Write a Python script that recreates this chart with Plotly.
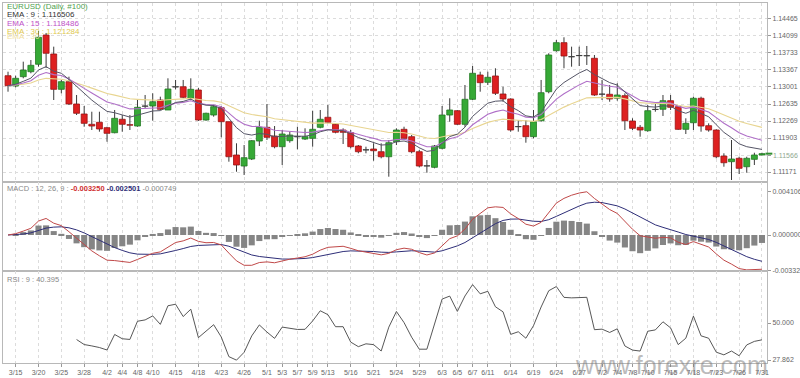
import numpy as np
import pandas as pd
import plotly.graph_objects as go

# ---------------- data ----------------
dates = pd.bdate_range("2019-03-14", "2019-07-31")
date_labels = [f"{d.month}/{d.day}" for d in dates]

opens = [1.13244, 1.13022, 1.13223, 1.13330, 1.13490, 1.14120, 1.13711, 1.12951, 1.13115, 1.12635,
         1.12420, 1.12198, 1.12241, 1.12125, 1.12017, 1.12306, 1.12190, 1.12161, 1.12585, 1.12592,
         1.12721, 1.12506, 1.13007, 1.13007, 1.12758, 1.12936, 1.12290, 1.12398, 1.12555, 1.12254,
         1.11537, 1.11300, 1.11451, 1.11838, 1.12133, 1.11946, 1.11716, 1.11845, 1.11935, 1.11881,
         1.11896, 1.12133, 1.12349, 1.12198, 1.12075, 1.12017, 1.11731, 1.11650, 1.11666, 1.11608,
         1.11500, 1.11823, 1.12090, 1.11931, 1.11608, 1.11305, 1.11272, 1.11681, 1.12398, 1.12491,
         1.12198, 1.12736, 1.13259, 1.13102, 1.13238, 1.12850, 1.12743, 1.12150, 1.12168, 1.11931,
         1.12275, 1.12900, 1.13782, 1.13955, 1.13650, 1.13680, 1.13670, 1.13619, 1.12850, 1.12844,
         1.12758, 1.12814, 1.12269, 1.12133, 1.12060, 1.12515, 1.12521, 1.12706, 1.12577, 1.12090,
         1.12232, 1.12758, 1.12168, 1.12075, 1.11515, 1.11393, 1.11466, 1.11285, 1.11444, 1.11537]
highs = [1.13330, 1.13244, 1.13546, 1.13582, 1.14207, 1.14164, 1.13869, 1.13152, 1.13223, 1.12829,
         1.12592, 1.12469, 1.12469, 1.12146, 1.12506, 1.12398, 1.12398, 1.12721, 1.12829, 1.12865,
         1.12792, 1.13188, 1.13152, 1.13152, 1.13188, 1.12980, 1.12448, 1.12613, 1.12592, 1.12260,
         1.11789, 1.11752, 1.11860, 1.12275, 1.12635, 1.12161, 1.12075, 1.12039, 1.12146, 1.12112,
         1.12491, 1.12506, 1.12613, 1.12219, 1.12112, 1.12075, 1.11752, 1.11716, 1.11789, 1.11789,
         1.11860, 1.12112, 1.12146, 1.11967, 1.11645, 1.11429, 1.11752, 1.12592, 1.12758, 1.12506,
         1.13044, 1.13453, 1.13330, 1.13330, 1.13404, 1.13007, 1.12758, 1.12290, 1.12290, 1.12506,
         1.13152, 1.13727, 1.14013, 1.14071, 1.13869, 1.13869, 1.13884, 1.13690, 1.13152, 1.13044,
         1.13081, 1.12865, 1.12327, 1.12183, 1.12613, 1.12635, 1.12829, 1.12829, 1.12592, 1.12327,
         1.12792, 1.12792, 1.12219, 1.12090, 1.11574, 1.11860, 1.11500, 1.11500, 1.11586, 1.11586]
lows = [1.12900, 1.12994, 1.13188, 1.13296, 1.13438, 1.13410, 1.12721, 1.12865, 1.12613, 1.12398,
        1.12146, 1.12075, 1.12039, 1.11823, 1.12004, 1.12039, 1.12075, 1.12146, 1.12549, 1.12275,
        1.12506, 1.12506, 1.12951, 1.12758, 1.12721, 1.12269, 1.12275, 1.12362, 1.11918, 1.11393,
        1.11177, 1.11106, 1.11429, 1.11731, 1.11860, 1.11681, 1.11322, 1.11802, 1.11660, 1.11860,
        1.11716, 1.12112, 1.12219, 1.12004, 1.11774, 1.11681, 1.11574, 1.11574, 1.11414, 1.11466,
        1.11070, 1.11752, 1.11860, 1.11574, 1.11272, 1.11156, 1.11251, 1.11660, 1.12254, 1.12183,
        1.12146, 1.12721, 1.12900, 1.13044, 1.12829, 1.12684, 1.12039, 1.12039, 1.11802, 1.11896,
        1.12254, 1.12865, 1.13761, 1.13404, 1.13438, 1.13453, 1.13475, 1.12810, 1.12721, 1.12684,
        1.12706, 1.12075, 1.12075, 1.11931, 1.12039, 1.12469, 1.12377, 1.12506, 1.12075, 1.11989,
        1.12075, 1.12039, 1.12039, 1.11466, 1.11285, 1.10999, 1.11128, 1.11156, 1.11322, 1.11530]
closes = [1.13029, 1.13188, 1.13367, 1.13468, 1.14071, 1.13727, 1.12951, 1.13115, 1.12635, 1.12435,
          1.12219, 1.12161, 1.12097, 1.12004, 1.12327, 1.12198, 1.12178, 1.12564, 1.12595, 1.12684,
          1.12521, 1.12958, 1.13000, 1.12779, 1.12951, 1.12290, 1.12435, 1.12577, 1.12254, 1.11500,
          1.11322, 1.11479, 1.11845, 1.12133, 1.11918, 1.11716, 1.11989, 1.11967, 1.11928, 1.11931,
          1.12090, 1.12306, 1.12241, 1.12026, 1.12026, 1.11716, 1.11608, 1.11645, 1.11629, 1.11500,
          1.11802, 1.12075, 1.11896, 1.11608, 1.11300, 1.11300, 1.11731, 1.12398, 1.12506, 1.12198,
          1.12736, 1.13296, 1.13094, 1.13210, 1.12865, 1.12743, 1.12075, 1.12146, 1.11931, 1.12254,
          1.12878, 1.13690, 1.13955, 1.13668, 1.13655, 1.13675, 1.13678, 1.12829, 1.12844, 1.12743,
          1.12829, 1.12275, 1.12112, 1.12075, 1.12491, 1.12521, 1.12706, 1.12564, 1.12090, 1.12219,
          1.12758, 1.12161, 1.12075, 1.11500, 1.11371, 1.11451, 1.11251, 1.11466, 1.11537, 1.11566]

tick_labels = ["3/15", "3/20", "3/25", "3/28", "4/2", "4/4", "4/8", "4/10", "4/15", "4/18",
               "4/23", "4/26", "5/1", "5/3", "5/7", "5/9", "5/13", "5/16", "5/21", "5/24",
               "5/29", "6/3", "6/5", "6/7", "6/11", "6/14", "6/19", "6/24", "6/27", "7/2",
               "7/4", "7/8", "7/10", "7/15", "7/18", "7/23", "7/26", "7/31"]
price_ticks = [1.14465, 1.14099, 1.13733, 1.13367, 1.13001, 1.12635, 1.12269, 1.11903, 1.11537, 1.11171]
price_tick_text = ["1.14465", "1.14099", "1.13733", "1.13367", "1.13001", "1.12635", "1.12269",
                   "1.11903", "", "1.11171"]
last_price = 1.11566
last_price_text = "1.11566"
macd_ticks = [0.004106, 0.0, -0.003329]
macd_tick_text = ["0.004106", "0.000000", "-0.003329"]
rsi_ticks = [50.0, 27.862]
rsi_tick_text = ["50.000", "27.862"]

# ---------------- indicators (as computed by the original chart) ----------------
def ema(vals, n):
    a = 2.0 / (n + 1)
    out = [vals[0]]
    for v in vals[1:]:
        out.append(a * v + (1 - a) * out[-1])
    return np.array(out)

c = np.array(closes)
ema9, ema15, ema30 = ema(closes, 9), ema(closes, 15), ema(closes, 30)
macd = ema(closes, 12) - ema(closes, 26)
signal = ema(list(macd), 9)
hist = macd - signal

def rsi(vals, n=9):
    ch = np.diff(vals)
    g = np.maximum(ch, 0)
    l = np.maximum(-ch, 0)
    out = [None] * len(vals)
    ag, al = g[:n].mean(), l[:n].mean()
    out[n] = 100 - 100 / (1 + ag / al) if al > 0 else 100
    for i in range(n, len(ch)):
        ag = (ag * (n - 1) + g[i]) / n
        al = (al * (n - 1) + l[i]) / n
        out[i + 1] = 100 - 100 / (1 + ag / al) if al > 0 else 100
    return out

rsi9 = rsi(c, 9)

# ---------------- figure ----------------
x = list(range(len(closes)))
tickvals = [date_labels.index(t) for t in tick_labels]

GREEN, GREEN_L = "#36a936", "#1f7a1f"
RED, RED_L = "#dd2020", "#9a1010"
DOJI = "#333333"

body_base, body_h, body_col, body_line = [], [], [], []
wx, wy = [], []
for i, (o, h, lo, cl) in enumerate(zip(opens, highs, lows, closes)):
    top, bot = max(o, cl), min(o, cl)
    if top - bot < 0.0001:
        mid = (top + bot) / 2
        body_base.append(mid - 0.00002)
        body_h.append(0.00004)
        body_col.append(DOJI)
        body_line.append(DOJI)
        top, bot = mid + 0.00002, mid - 0.00002
    else:
        body_base.append(bot)
        body_h.append(top - bot)
        body_col.append(GREEN if cl > o else RED)
        body_line.append(GREEN_L if cl > o else RED_L)
    wx += [i, i, None, i, i, None]
    wy += [h, top, None, bot, lo, None]

fig = go.Figure()
fig.add_trace(go.Scatter(x=wx, y=wy, mode="lines", line=dict(color="#3a3a3a", width=1),
                         xaxis="x", yaxis="y", hoverinfo="skip"))
fig.add_trace(go.Bar(x=x, y=body_h, base=body_base, width=0.78,
                     marker=dict(color=body_col, line=dict(color=body_line, width=0.8)),
                     xaxis="x", yaxis="y"))
fig.add_trace(go.Scatter(x=x, y=ema30, mode="lines", line=dict(color="#e8d590", width=1.1),
                         xaxis="x", yaxis="y"))
fig.add_trace(go.Scatter(x=x, y=ema15, mode="lines", line=dict(color="#b070c8", width=1.1),
                         xaxis="x", yaxis="y"))
fig.add_trace(go.Scatter(x=x, y=ema9, mode="lines", line=dict(color="#555566", width=1),
                         xaxis="x", yaxis="y"))

fig.add_trace(go.Bar(x=x, y=hist, width=0.8, marker=dict(color="#858585", line=dict(width=0)),
                     xaxis="x2", yaxis="y2"))
fig.add_trace(go.Scatter(x=x, y=signal, mode="lines", line=dict(color="#2e2e78", width=1),
                         xaxis="x2", yaxis="y2"))
fig.add_trace(go.Scatter(x=x, y=macd, mode="lines", line=dict(color="#c04848", width=1),
                         xaxis="x2", yaxis="y2"))

fig.add_trace(go.Scatter(x=x, y=rsi9, mode="lines", line=dict(color="#444444", width=0.9),
                         xaxis="x3", yaxis="y3"))

# layout geometry
H_TOP, H_BOT = 3, 363
def py(p):
    return (H_BOT - p) / (H_BOT - H_TOP)

xr = [-0.66, 99.66]
grid = dict(showgrid=True, gridcolor="#dcdcdc", griddash="dot", gridwidth=1)
border = dict(showline=True, linecolor="#b8b8b8", linewidth=1, mirror=True, zeroline=False)
tickf = dict(size=7, color="#666666", family="Liberation Sans, Arial")

common_x = dict(range=xr, tickmode="array", tickvals=tickvals, ticktext=tick_labels, **grid, **border)
fig.update_layout(
    width=800, height=378,
    margin=dict(l=3, r=33, t=3, b=15),
    paper_bgcolor="white", plot_bgcolor="white",
    showlegend=False, barmode="overlay",
    font=dict(family="Liberation Sans, Arial", size=7, color="#666"),
    xaxis=dict(**common_x, domain=[0, 1], anchor="y", showticklabels=False, ticks=""),
    xaxis2=dict(**common_x, domain=[0, 1], anchor="y2", matches="x", showticklabels=False, ticks=""),
    xaxis3=dict(**common_x, domain=[0, 1], anchor="y3", matches="x", showticklabels=True,
                ticks="outside", ticklen=3, tickcolor="#999", tickfont=tickf, tickangle=0,
                automargin=False),
    yaxis=dict(domain=[py(182), 1], range=[1.10956, 1.14809], side="right", tickmode="array",
               tickvals=price_ticks, ticktext=price_tick_text, ticks="outside", ticklen=3,
               tickcolor="#999", tickfont=tickf, automargin=False, **grid, **border),
    yaxis2=dict(domain=[py(271), py(182)], range=[-0.003388, 0.00499], side="right",
                tickmode="array", tickvals=macd_ticks, ticktext=macd_tick_text, ticks="outside",
                ticklen=3, tickcolor="#999", tickfont=tickf, showgrid=False, automargin=False,
                **border),
    yaxis3=dict(domain=[0, py(271)], range=[26.08, 81.1], side="right", tickmode="array",
                tickvals=rsi_ticks, ticktext=rsi_tick_text, ticks="outside", ticklen=3,
                tickcolor="#999", tickfont=tickf, showgrid=False, automargin=False, **border),
)

# current price marker and label
fig.add_shape(type="line", xref="paper", yref="y", x0=0.998, x1=1.007, y0=last_price, y1=last_price,
              line=dict(color="#2f8f2f", width=2))
fig.add_annotation(text=last_price_text, xref="paper", yref="y", x=(771 - 3) / 764, y=1.11537,
                   xanchor="left", yanchor="middle", showarrow=False,
                   font=dict(size=7, color="#8fa88f", family="Liberation Sans, Arial"))

def ann(text, xpix, ypix, color, size=8):
    fig.add_annotation(text=text, xref="paper", yref="paper", x=(xpix - 3) / 764, y=py(ypix),
                       xanchor="left", yanchor="middle", showarrow=False,
                       font=dict(size=size, color=color, family="Liberation Sans, Arial"))

ann("EURUSD (Daily, #100)", 5, 6.7, "#4f9f4f")
ann("EMA : 9 : 1.116506", 5, 15, "#333333")
ann("EMA : 15 : 1.118486", 5, 23.3, "#c050c8")
ann("EMA : 30 : 1.121284", 5, 31.7, "#e0c850")
ann("EMA : 30", 5, 36, "#f0e0a0")
ann("MACD : 12, 26, 9 : <b><span style='color:#d03030'>-0.003250</span></b> "
    "<b><span style='color:#303078'>-0.002501</span></b> -0.000749", 5, 189, "#888888", 7.5)
ann("RSI : 9 : 40.395", 5, 279, "#888888", 7.5)

fig.add_annotation(text="www.forexre.com", xref="paper", yref="paper", x=1.004, y=py(381),
                   xanchor="right", yanchor="bottom", showarrow=False,
                   font=dict(size=25, color="rgba(120,120,120,0.5)", family="Liberation Sans, Arial"))

fig.write_html("out.html", config={"displayModeBar": False},
               post_script="document.body.style.margin='0px';")
